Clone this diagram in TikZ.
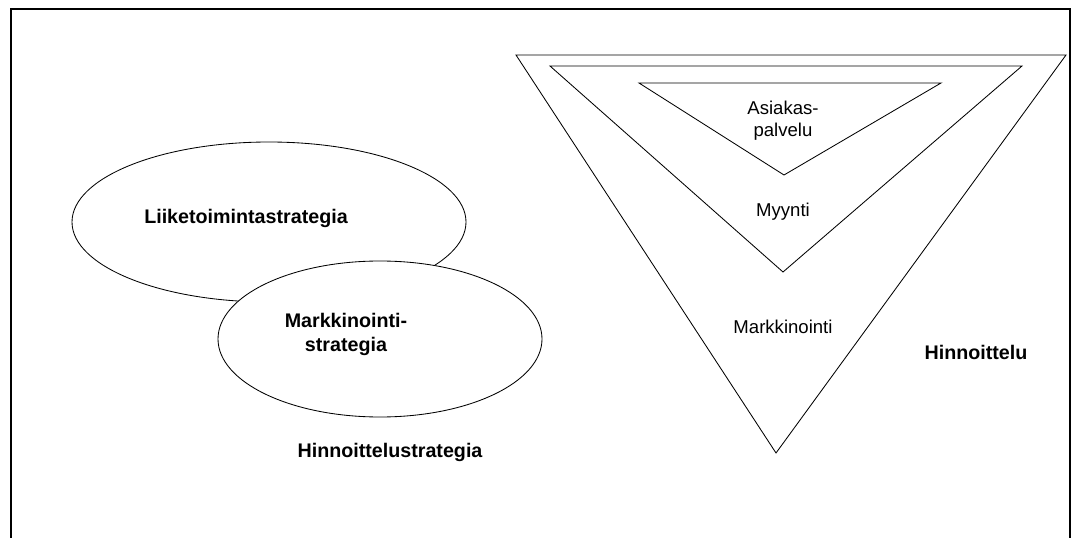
\documentclass[tikz,border=0pt]{standalone}
\usepackage{fontspec}
\setmainfont{Liberation Sans}
\begin{document}
\begin{tikzpicture}[x=0.025cm,y=-0.025cm,
    line width=0.6pt,
    heavy/.style={font=\fontsize{14}{17}\selectfont\bfseries},
    plain/.style={font=\fontsize{13.2}{15.6}\selectfont, align=center}]
    \useasboundingbox (0,0) rectangle (1072,538);
    %% frame
    \draw[line width=1.6pt] (11,538) -- (11,9) -- (1070,9) -- (1070,538);
    %% strategy ellipses
    \draw (269,222) ellipse [x radius=197, y radius=80];
    \draw[fill=white] (380,339) ellipse [x radius=162, y radius=78];
    \node[heavy] (liike) at (246,218) {Liiketoimintastrategia};
    \node[heavy, align=center] (markstrat) at (346,334) {Markkinointi-\\strategia};
    \node[heavy] (hstrat) at (390,452) {Hinnoittelustrategia};
    %% pricing triangles
    \foreach \l/\r/\t/\a/\b in {516/1066/55/776/453, 550/1022/66/783/272, 639/941/83/784/175}
        \draw (\l,\t) -- (\r,\t) -- (\a,\b) -- cycle;
    \node[plain] (asiakas) at (783,121) {Asiakas-\\palvelu};
    \node[plain] (myynti) at (783,212) {Myynti};
    \node[plain] (markk) at (783,327) {Markkinointi};
    \node[heavy] (hinn) at (976,352) {Hinnoittelu};
\end{tikzpicture}
\end{document}
